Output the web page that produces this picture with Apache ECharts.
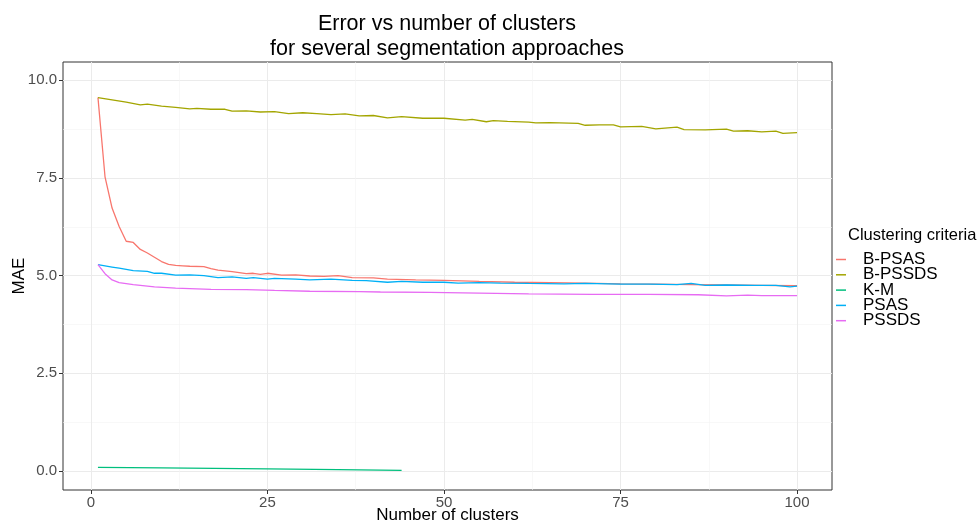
<!DOCTYPE html>
<html>
<head>
<meta charset="utf-8">
<script src="https://cdn.jsdelivr.net/npm/echarts@6/dist/echarts.min.js"></script>
<style>
  html, body { margin: 0; padding: 0; background: #fff; }
  #chart { width: 978px; height: 524px; }
</style>
</head>
<body>
<div id="chart"></div>
<script>
// values, as [number of clusters, MAE]
const seriesNames = ['B-PSAS', 'B-PSSDS', 'K-M', 'PSAS', 'PSSDS']
const seriesColors = ['#F8766D', '#A3A500', '#00BF7D', '#00B0F6', '#E76BF3']

const bPsas = [
  [1, 9.56], [2, 7.53], [3, 6.73], [4, 6.26], [5, 5.88], [6, 5.85], [7, 5.67], [8, 5.58],
  [9, 5.47], [10, 5.36], [11, 5.29], [12, 5.26], [13, 5.25], [14, 5.24], [16, 5.23], [17, 5.18],
  [18, 5.14], [20, 5.10], [22, 5.05], [23, 5.06], [24, 5.03], [25, 5.06], [27, 5.01], [29, 5.02],
  [31, 4.99], [33, 4.98], [35, 5.00], [37, 4.95], [40, 4.94], [42, 4.91], [46, 4.89], [50, 4.88],
  [55, 4.85], [60, 4.83], [65, 4.82], [70, 4.81], [75, 4.79], [80, 4.78], [85, 4.77], [90, 4.76],
  [95, 4.75], [100, 4.74],
]
const bPssds = [
  [1, 9.56], [3, 9.50], [5, 9.44], [7, 9.37], [8, 9.39], [10, 9.34], [12, 9.31], [14, 9.27],
  [15, 9.28], [17, 9.26], [19, 9.26], [20, 9.21], [22, 9.22], [24, 9.19], [26, 9.20], [28, 9.15],
  [30, 9.17], [32, 9.15], [34, 9.12], [36, 9.14], [38, 9.09], [40, 9.10], [42, 9.04], [44, 9.07],
  [47, 9.03], [50, 9.03], [53, 8.98], [54, 9.00], [56, 8.94], [57, 8.97], [59, 8.95], [62, 8.93],
  [63, 8.91], [65, 8.92], [69, 8.90], [70, 8.85], [72, 8.86], [74, 8.86], [75, 8.81], [78, 8.82],
  [80, 8.76], [83, 8.80], [84, 8.74], [87, 8.73], [90, 8.75], [91, 8.70], [93, 8.71], [95, 8.68],
  [97, 8.70], [98, 8.64], [100, 8.66],
]
const kM = [
  [1, 0.09], [10, 0.075], [25, 0.05], [35, 0.03], [44, 0.01],
]
const psas = [
  [1, 5.28], [3, 5.22], [4, 5.19], [6, 5.13], [8, 5.11], [9, 5.06], [10, 5.06], [12, 5.01],
  [14, 5.02], [16, 5.00], [18, 4.95], [20, 4.97], [22, 4.93], [23, 4.95], [25, 4.91], [26, 4.93],
  [29, 4.91], [31, 4.89], [34, 4.91], [37, 4.88], [39, 4.87], [42, 4.83], [44, 4.85], [47, 4.83],
  [50, 4.83], [52, 4.81], [55, 4.82], [58, 4.81], [62, 4.80], [67, 4.79], [70, 4.80], [75, 4.78],
  [79, 4.78], [83, 4.77], [85, 4.80], [87, 4.75], [90, 4.76], [94, 4.75], [97, 4.75], [99, 4.71],
  [100, 4.73],
]
const pssds = [
  [1, 5.28], [2, 5.05], [3, 4.89], [4, 4.82], [6, 4.77], [9, 4.71], [12, 4.68], [17, 4.65],
  [22, 4.64], [26, 4.62], [31, 4.60], [38, 4.59], [41, 4.58], [48, 4.57], [55, 4.55], [62, 4.53],
  [71, 4.52], [79, 4.52], [86, 4.51], [90, 4.48], [93, 4.50], [95, 4.49], [100, 4.49],
]
const seriesData = [bPsas, bPssds, kM, psas, pssds]

const xTicks = [0, 25, 50, 75, 100]
const xMinor = [12.5, 37.5, 62.5, 87.5]
const yTicks = [0, 2.5, 5, 7.5, 10]
const yMinor = [1.25, 3.75, 6.25, 8.75]

const FONT = '"Liberation Sans", Arial, sans-serif'
const xMin = -3.95, xMax = 104.95
const yMin = -0.49, yMax = 10.47

const chart = echarts.init(document.getElementById('chart'))

const hiddenAxis = {
  axisLine: { show: false, onZero: false },
  axisLabel: { show: false },
}

const option = {
  animation: false,
  backgroundColor: '#fff',
  textStyle: { fontFamily: FONT },
  title: [
    {
      text: 'Error vs number of clusters\nfor several segmentation approaches',
      left: 442,
      top: 7,
      textAlign: 'center',
      textStyle: { fontFamily: FONT, fontSize: 21.5, fontWeight: 'normal', color: '#000', lineHeight: 25 },
    },
    {
      text: 'Clustering criteria',
      left: 843,
      top: 222,
      textStyle: { fontFamily: FONT, fontSize: 16.5, fontWeight: 'normal', color: '#000' },
    },
  ],
  legend: {
    orient: 'vertical',
    left: 831,
    top: 246,
    icon: 'rect',
    itemWidth: 10,
    itemHeight: 1.5,
    itemGap: -1.7,
    textStyle: { fontFamily: FONT, fontSize: 17, color: '#000', lineHeight: 15, padding: [0, 0, 0, 12] },
    data: seriesNames,
  },
  grid: {
    left: 63,
    right: 146,
    top: 62,
    bottom: 34,
    outerBoundsMode: 'none',
    containLabel: false,
    show: true,
    borderColor: '#333333',
    borderWidth: 1,
    backgroundColor: 'transparent',
  },
  xAxis: [
    {
      type: 'value',
      min: xMin,
      max: xMax,
      name: 'Number of clusters',
      nameLocation: 'middle',
      nameGap: 17,
      nameMoveOverlap: false,
      nameTextStyle: { fontFamily: FONT, fontSize: 17, color: '#000' },
      axisLine: { show: true, onZero: false, lineStyle: { color: '#333', width: 1, opacity: 0 } },
      axisTick: { show: true, length: 4, customValues: xTicks, lineStyle: { color: '#333', width: 1 } },
      axisLabel: { customValues: xTicks, fontSize: 15, color: '#4D4D4D', margin: 5, fontFamily: FONT },
      splitLine: { show: true, lineStyle: { color: '#EBEBEB', width: 1 } },
    },
    {
      type: 'value',
      min: xMin,
      max: xMax,
      position: 'top',
      ...hiddenAxis,
      axisTick: { show: false, customValues: xMinor },
      splitLine: { show: true, lineStyle: { color: '#F3F3F3', width: 0.6 } },
    },
  ],
  yAxis: [
    {
      type: 'value',
      min: yMin,
      max: yMax,
      name: 'MAE',
      nameLocation: 'middle',
      nameGap: 35,
      nameRotate: 90,
      nameMoveOverlap: false,
      nameTextStyle: { fontFamily: FONT, fontSize: 17, color: '#000' },
      axisLine: { show: true, onZero: false, lineStyle: { color: '#333', width: 1, opacity: 0 } },
      axisTick: { show: true, length: 4, customValues: yTicks, lineStyle: { color: '#333', width: 1 } },
      axisLabel: {
        customValues: yTicks, fontSize: 15, color: '#4D4D4D', margin: 6, fontFamily: FONT,
        formatter: (v) => v.toFixed(1),
      },
      splitLine: { show: true, lineStyle: { color: '#EBEBEB', width: 1 } },
    },
    {
      type: 'value',
      min: yMin,
      max: yMax,
      position: 'right',
      ...hiddenAxis,
      axisTick: { show: false, customValues: yMinor },
      splitLine: { show: true, lineStyle: { color: '#F3F3F3', width: 0.6 } },
    },
  ],
  series: seriesNames.map((name, i) => ({
    name,
    type: 'line',
    data: seriesData[i],
    showSymbol: false,
    symbol: 'none',
    color: seriesColors[i],
    lineStyle: { width: 1.3, color: seriesColors[i] },
    z: 3 + i,
  })),
}

chart.setOption(option)
</script>
</body>
</html>
